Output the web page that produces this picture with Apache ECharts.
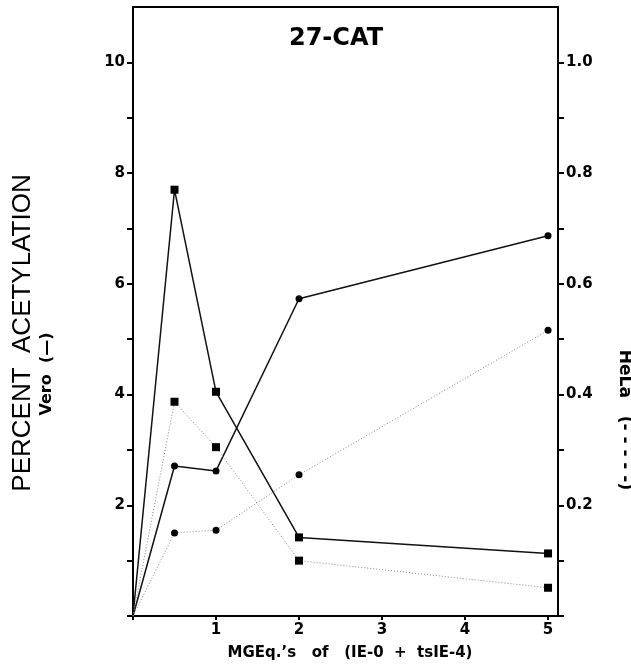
<!DOCTYPE html>
<html>
<head>
<meta charset="utf-8">
<script src="https://cdn.jsdelivr.net/npm/echarts@6/dist/echarts.min.js"></script>
<style>
  html, body { margin: 0; padding: 0; background: #fff; }
  #chart { width: 631px; height: 665px; }
</style>
</head>
<body>
<div id="chart"></div>
<script>
// x positions (MGEq.'s of IE-0 + tsIE-4)
const doses = [0, 0.5, 1, 2, 5];

// Vero, left axis (percent acetylation)
const veroSquares = [0, 7.7, 4.05, 1.42, 1.13];
const veroCircles = [0, 2.71, 2.62, 5.73, 6.87];

// HeLa, right axis
const helaSquares = [0, 0.387, 0.305, 0.10, 0.051];
const helaCircles = [0, 0.15, 0.155, 0.255, 0.516];

// ticks and labels
const xTicks = [0, 1, 2, 3, 4, 5];
const xLabels = [1, 2, 3, 4, 5];
const leftTicks = [0, 1, 2, 3, 4, 5, 6, 7, 8, 9, 10];
const leftLabels = [2, 4, 6, 8, 10];
const rightTicks = [0, 0.1, 0.2, 0.3, 0.4, 0.5, 0.6, 0.7, 0.8, 0.9, 1.0];
const rightLabels = [0.2, 0.4, 0.6, 0.8, 1.0];

const SANS = '"Liberation Sans", Arial, Helvetica, sans-serif';
const WIDE = '"DejaVu Sans", Verdana, sans-serif';

function pts(vals) {
  return doses.map((d, i) => {
    const p = { value: [d, vals[i]] };
    if (d === 0) p.symbol = 'none';
    return p;
  });
}

const chart = echarts.init(document.getElementById('chart'));

const lbl = { color: '#000', fontFamily: WIDE, fontWeight: 'bold', fontSize: 15 };
const axLine = { show: true, lineStyle: { color: '#000', width: 2 } };

const option = {
  backgroundColor: '#fff',
  animation: false,
  grid: { left: 133, right: 73, top: 7, bottom: 49, show: true, borderColor: '#000', borderWidth: 2, backgroundColor: 'transparent' },
  xAxis: {
    type: 'value', min: 0, max: 5.12,
    axisLine: axLine,
    axisTick: { show: true, length: 4, customValues: xTicks, lineStyle: { color: '#000', width: 2 } },
    splitLine: { show: false },
    axisLabel: Object.assign({}, lbl, { margin: 7, customValues: xLabels })
  },
  yAxis: [
    {
      type: 'value', min: 0, max: 11, position: 'left',
      axisLine: axLine,
      axisTick: { show: true, length: 6, customValues: leftTicks, lineStyle: { color: '#000', width: 2 } },
      splitLine: { show: false },
      axisLabel: Object.assign({}, lbl, { margin: 8, customValues: leftLabels })
    },
    {
      type: 'value', min: 0, max: 1.1, position: 'right',
      axisLine: axLine,
      axisTick: { show: true, length: 6, customValues: rightTicks, lineStyle: { color: '#000', width: 2 } },
      splitLine: { show: false },
      axisLabel: Object.assign({}, lbl, { margin: 8, customValues: rightLabels, formatter: v => Number(v).toFixed(1) })
    }
  ],
  series: [
    {
      name: 'Vero squares', type: 'line', yAxisIndex: 0, data: pts(veroSquares),
      symbol: 'rect', symbolSize: 8,
      lineStyle: { color: '#111', width: 1.5 }, itemStyle: { color: '#000' }
    },
    {
      name: 'Vero circles', type: 'line', yAxisIndex: 0, data: pts(veroCircles),
      symbol: 'circle', symbolSize: 7,
      lineStyle: { color: '#111', width: 1.5 }, itemStyle: { color: '#000' }
    },
    {
      name: 'HeLa squares', type: 'line', yAxisIndex: 1, data: pts(helaSquares),
      symbol: 'rect', symbolSize: 8,
      lineStyle: { color: '#888', width: 1, type: [1, 2] }, itemStyle: { color: '#000' }
    },
    {
      name: 'HeLa circles', type: 'line', yAxisIndex: 1, data: pts(helaCircles),
      symbol: 'circle', symbolSize: 7,
      lineStyle: { color: '#888', width: 1, type: [1, 2] }, itemStyle: { color: '#000' }
    }
  ],
  graphic: [
    {
      type: 'text', x: 336, y: 39,
      style: { text: '27-CAT', fill: '#000', font: 'bold 24px ' + WIDE, textAlign: 'center', textVerticalAlign: 'middle' }
    },
    {
      type: 'text', x: 350, y: 653,
      style: { text: 'MGEq.\u2019s   of   (IE-0  +  tsIE-4)', fill: '#000', font: 'bold 15px ' + WIDE, textAlign: 'center', textVerticalAlign: 'middle' }
    },
    {
      type: 'text', x: 23, y: 333, rotation: Math.PI / 2,
      style: { text: 'PERCENT  ACETYLATION', fill: '#000', font: '26px ' + SANS, textAlign: 'center', textVerticalAlign: 'middle' }
    },
    {
      type: 'text', x: 47, y: 374, rotation: Math.PI / 2,
      style: { text: 'Vero  (\u2014)', fill: '#000', font: 'bold 16px ' + WIDE, textAlign: 'center', textVerticalAlign: 'middle' }
    },
    {
      type: 'text', x: 624, y: 420, rotation: -Math.PI / 2,
      style: { text: 'HeLa   (- - - - -)', fill: '#000', font: 'bold 17px ' + WIDE, textAlign: 'center', textVerticalAlign: 'middle' }
    }
  ]
};

chart.setOption(option);
</script>
</body>
</html>
